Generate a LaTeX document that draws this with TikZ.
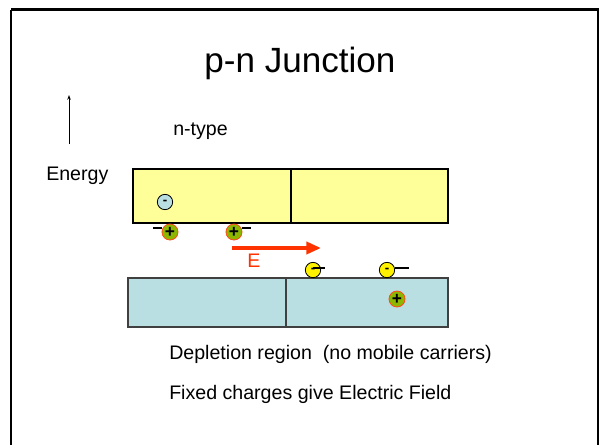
\documentclass[tikz,border=0pt]{standalone}
\usepackage{fontspec}
\setmainfont{Liberation Sans}
\usetikzlibrary{arrows.meta}
\definecolor{bandyellow}{HTML}{FFFF99}
\definecolor{bandblue}{HTML}{B9DFE2}
\definecolor{fieldred}{HTML}{FF3300}
\definecolor{iongreen}{HTML}{8DB600}
\definecolor{ionedge}{HTML}{FF4A1A}
\tikzset{
  lbl/.style={anchor=base west, inner sep=0pt, font=\fontsize{14.7}{16}\selectfont},
  ttl/.style={anchor=base, inner sep=0pt, font=\fontsize{26.3}{30}\selectfont},
  yband/.style={draw=black, fill=bandyellow, line width=0.8pt},
  bband/.style={draw=black!75, fill=bandblue, line width=0.8pt},
  chg/.style={circle, minimum size=11.5pt, inner sep=0pt, line width=0.6pt},
  holeion/.style={chg, minimum size=12pt, draw=ionedge, fill=iongreen, font=\fontsize{13}{13}\selectfont\bfseries},
  elec/.style={chg, draw=black, fill=yellow, font=\fontsize{10}{10}\selectfont\bfseries},
  belec/.style={chg, draw=black, fill=bandblue, font=\fontsize{10}{10}\selectfont\bfseries},
  stub/.style={line width=0.9pt, black},
  field/.style={fieldred, line width=3pt, -{Triangle[length=11pt,width=9pt]}}
}
\begin{document}
\begin{tikzpicture}[x=0.75pt, y=-0.75pt]
\clip (0,0) rectangle (600,444);
\useasboundingbox (0,0) rectangle (600,444);
\fill[white] (0,0) rectangle (600,444);
% frame
\draw[line width=1.6pt] (11,9.5) -- (598,9.5) -- (598,460);
\draw[line width=1.6pt] (11,9.5) -- (11,460);
% title
\node[ttl] (title) at (300,72) {p-n Junction};
% energy axis
\coordinate (ebot) at (69,144);
\coordinate (etop) at (69,95);
\draw[line width=0.6pt, -{Stealth[length=3.5pt,width=2.6pt]}] (ebot) -- (etop);
\node[lbl] (energy) at (46,180) {Energy};
\node[lbl] (ntype) at (173,135) {n-type};
% bands
\draw[yband] (133,169) rectangle (291,223);
\draw[yband] (291,169) rectangle (448,223);
\draw[bband] (128,278) rectangle (286,327);
\draw[bband] (286,278) rectangle (448,327);
\draw[black!75, line width=0.8pt] (286,277.5) -- (290,277.5);
% stub end points
\coordinate (s1) at (153,228);
\coordinate (s2) at (251,228);
\coordinate (s3) at (325,268);
\coordinate (s4) at (409,268);
% charges
\node[belec] (e0) at (165,202) {-};
\node[holeion] (h1) at (170,232) {+};
\node[holeion] (h2) at (234,232) {+};
\node[elec] (e1) at (313,270) {-};
\node[elec] (e2) at (387,270) {-};
\node[holeion] (h3) at (397,299) {+};
\draw[stub] (s1) -- (h1.west |- s1);
\draw[stub] (h2.east |- s2) -- (s2);
\draw[stub] (e1.center |- s3) -- (s3);
\draw[stub] (e2.east |- s4) -- (s4);
% field arrow
\coordinate (fa) at (232,248);
\coordinate (fb) at (321,248);
\draw[field] (fa) -- (fb);
\node[lbl, text=fieldred] (elabel) at (247,267) {E};
% captions
\node[lbl] (depl) at (169,359) {Depletion region\ \ (no mobile carriers)};
\node[lbl] (fixed) at (169,399) {Fixed charges give Electric Field};
\end{tikzpicture}
\end{document}
